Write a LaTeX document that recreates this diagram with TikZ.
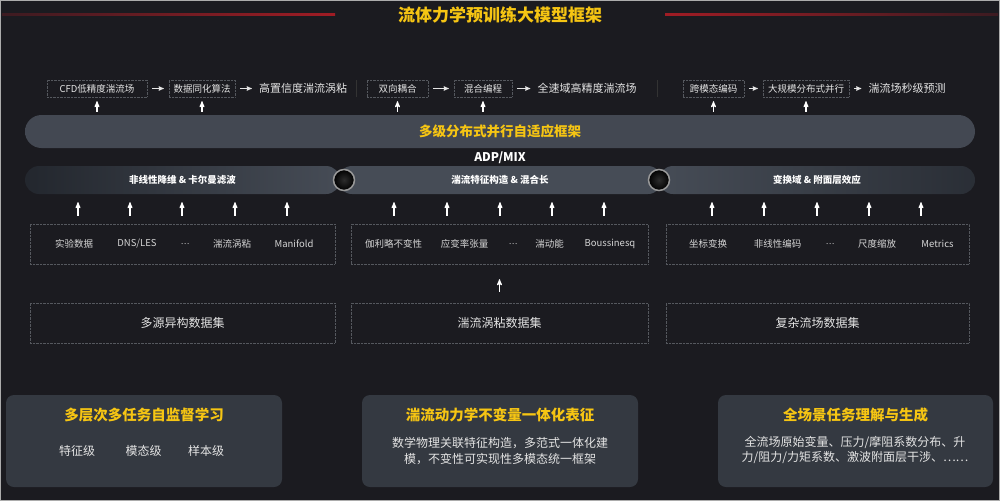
\documentclass[tikz,border=0pt]{standalone}
\usepackage{fontspec}
\setmainfont{Noto Sans CJK SC}
\usepackage{tikz}
\usetikzlibrary{arrows,positioning,shapes.misc,backgrounds,fit}
\definecolor{bgdark}{HTML}{1B1B20}
\definecolor{gold}{HTML}{F6C513}
\definecolor{linered}{HTML}{A01C24}
\definecolor{pilldark}{HTML}{23272E}
\definecolor{pilllight}{HTML}{464C56}
\definecolor{panelside}{HTML}{343941}
\definecolor{panelmid}{HTML}{1F2228}
\definecolor{boxline}{HTML}{55585E}
\definecolor{softwhite}{HTML}{E4E4E4}
\newcommand{\fsz}[1]{\fontsize{#1}{#1}\selectfont}

\begin{document}
\begin{tikzpicture}[x=1pt, y=-1pt, >=stealth',
	tbox/.style={draw=boxline, densely dotted, minimum height=17pt, inner sep=0pt, text=softwhite, font=\fsz{9.5}},
	plain/.style={text=softwhite, inner sep=2pt, font=\fsz{11}},
	rarr/.style={->, softwhite, line width=0.9pt, shorten <=5pt, shorten >=5pt},
	uparr/.style={->, white, line width=1.1pt},
	pill/.style={rounded rectangle, minimum height=28pt, inner sep=0pt, text=white, font=\bfseries\fsz{9.5}},
	joint/.style={circle, minimum size=21pt, inner sep=0pt, draw=gray!80, line width=1.5pt, inner color=gray!35!black, outer color=black},
	group/.style={draw=boxline, densely dotted, minimum height=40pt, inner sep=0pt},
	item/.style={text=softwhite!85!gray, font=\fsz{9.5}},
	dset/.style={group, text=softwhite, font=\fsz{12}},
	panel/.style={rounded corners=8pt, minimum height=92pt, inner sep=0pt, left color=panelside, middle color=panelmid, right color=panelside},
	ptitle/.style={text=gold, font=\bfseries\fsz{14.5}},
	ptext/.style={text=softwhite, font=\fsz{12}, align=center}]

	\useasboundingbox (0,0) rectangle (1000,501);
	\fill[bgdark] (0,0) rectangle (1000,501);
	\draw[gray!65, line width=1.2pt] (0.6,0.6) rectangle (999.4,500.4);

	% title
	\shade[left color=linered!25!bgdark, right color=linered] (2,13) rectangle (335,15.5);
	\shade[left color=linered, right color=linered!25!bgdark] (665,13) rectangle (998,15.5);
	\node[text=gold, font=\bfseries\fsz{17}] (title) at (500,15) {流体力学预训练大模型框架};

	% top row
	\node[tbox, minimum width=100pt] (b1) at (97,88.5) {CFD低精度湍流场};
	\node[tbox, minimum width=66pt] (b2) at (202,88.5) {数据同化算法};
	\node[plain] (t1) at (303,88.5) {高置信度湍流涡粘};
	\node[tbox, minimum width=61pt] (b3) at (397.5,88.5) {双向耦合};
	\node[tbox, minimum width=58pt] (b4) at (483,88.5) {混合编程};
	\node[plain] (t2) at (587,88.5) {全速域高精度湍流场};
	\node[tbox, minimum width=61pt] (b5) at (713.5,88.5) {跨模态编码};
	\node[tbox, minimum width=86pt] (b6) at (806,88.5) {大规模分布式并行};
	\node[plain] (t3) at (907,88.5) {湍流场秒级预测};
	\draw[rarr] (b1) -- (b2);
	\draw[rarr] (b2) -- (t1);
	\draw[rarr] (b3) -- (b4);
	\draw[rarr] (b4) -- (t2);
	\draw[rarr] (b5) -- (b6);
	\draw[rarr] (b6) -- (t3);
	\draw[gray!40!black, line width=0.8pt] (356,80) -- (356,97);
	\draw[gray!40!black, line width=0.8pt] (657,80) -- (657,97);

	% framework band
	\node[rounded rectangle, minimum width=950pt, minimum height=33pt, inner sep=0pt,
		left color=pilllight!90!pilldark, middle color=pilldark, right color=pilllight!90!pilldark,
		text=gold, font=\bfseries\fsz{13.5}] (frame) at (500,131.5) {多级分布式并行自适应框架};
	\foreach \b in {b1,b2,b3,b4,b5,b6}
		\draw[uparr, shorten <=3pt, shorten >=4pt] (\b.south |- frame.north) -- (\b.south);
	\node[text=white, font=\bfseries\fsz{12}] (mix) at (500,158) {ADP/MIX};

	% method pills
	\node[pill, minimum width=315pt, left color=pilldark, right color=pilllight] (pillA) at (182.5,180) {非线性降维 \& 卡尔曼滤波};
	\node[pill, minimum width=324pt, left color=pilllight, middle color=pilldark, right color=pilllight] (pillB) at (500,180) {湍流特征构造 \& 混合长};
	\node[pill, minimum width=316pt, left color=pilllight, right color=pilldark!80!pilllight] (pillC) at (817,180) {变换域 \& 附面层效应};
	\node[joint] (j1) at (344,180) {};
	\node[joint] (j2) at (659,180) {};

	% feature groups
	\node[group, minimum width=305pt] (grpA) at (182.5,244) {};
	\node[group, minimum width=297pt] (grpB) at (499.5,244) {};
	\node[group, minimum width=303pt] (grpC) at (817.5,244) {};
	\foreach \x/\t [count=\i] in {74/实验数据, 137/{DNS/LES}, 185/{\fsz{8}…}, 232/湍流涡粘, 294/Manifold}
		\node[item] (iA\i) at (\x,244) {\t};
	\foreach \x/\t [count=\i] in {393.5/伽利略不变性, 464.5/应变率张量, 513/{\fsz{8}…}, 549.5/湍动能, 610/Boussinesq}
		\node[item] (iB\i) at (\x,244) {\t};
	\foreach \x/\t [count=\i] in {708/坐标变换, 777.5/非线性编码, 830/{\fsz{8}…}, 877/尺度缩放, 937.5/Metrics}
		\node[item] (iC\i) at (\x,244) {\t};
	\foreach \x in {78,130,182,235,287}
		\draw[uparr, shorten <=8pt, shorten >=8pt] (\x,0 |- grpA.north) -- (\x,0 |- pillA.south);
	\foreach \x in {394,447,500,552,604}
		\draw[uparr, shorten <=8pt, shorten >=8pt] (\x,0 |- grpB.north) -- (\x,0 |- pillB.south);
	\foreach \x in {712,764,817,869,921}
		\draw[uparr, shorten <=8pt, shorten >=8pt] (\x,0 |- grpC.north) -- (\x,0 |- pillC.south);

	% datasets
	\node[dset, minimum width=305pt] (dsA) at (182.5,323) {多源异构数据集};
	\node[dset, minimum width=297pt] (dsB) at (499.5,323) {湍流涡粘数据集};
	\node[dset, minimum width=303pt] (dsC) at (817.5,323) {复杂流场数据集};
	\draw[uparr, shorten <=11pt, shorten >=15pt] (dsB.north) -- (grpB.south);

	% bottom panels
	\node[panel, minimum width=276pt] (pL) at (144,441) {};
	\node[panel, minimum width=276pt] (pM) at (500,441) {};
	\node[panel, minimum width=275pt] (pR) at (855.5,441) {};
	\node[ptitle] (hL) at (144,415) {多层次多任务自监督学习};
	\node[ptitle] (hM) at (500,415) {湍流动力学不变量一体化表征};
	\node[ptitle] (hR) at (855.5,415) {全场景任务理解与生成};
	\node[ptext] (lv1) at (77,451) {特征级};
	\node[ptext] (lv2) at (143.5,451) {模态级};
	\node[ptext] (lv3) at (206,451) {样本级};
	\node[ptext, font=\fontsize{12}{16}\selectfont] (dM) at (500,451) {数学物理关联特征构造，多范式一体化建\\模，不变性可实现性多模态统一框架};
	\node[ptext, font=\fontsize{12}{15.5}\selectfont] (dR) at (855,450) {全流场原始变量、压力/摩阻系数分布、升\\力/阻力/力矩系数、激波附面层干涉、……};
\end{tikzpicture}
\end{document}
